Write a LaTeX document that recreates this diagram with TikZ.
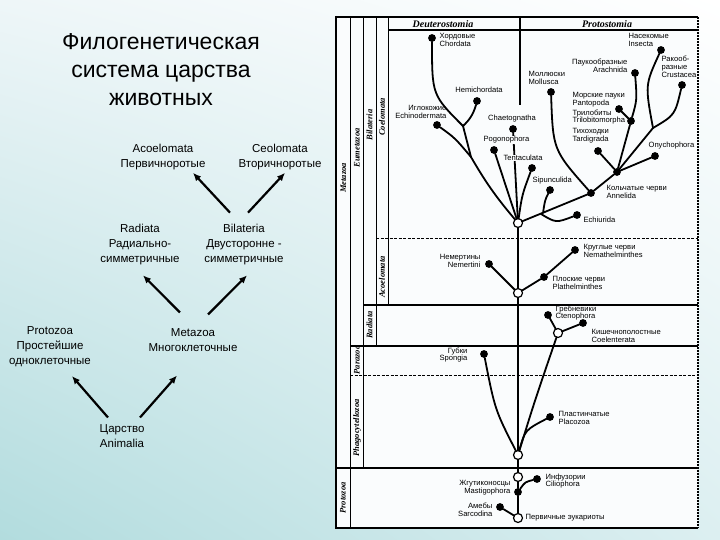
\documentclass[tikz,border=0pt]{standalone}
\usepackage{fontspec}
\setmainfont{Liberation Sans}
\newfontfamily\taxfont{Liberation Serif}
\usetikzlibrary{arrows.meta,shadings}
\begin{document}
\begin{tikzpicture}[x=1pt,y=-1pt,
  every node/.style={inner sep=0pt,outer sep=0pt},
  title/.style={font=\fontsize{23}{28}\selectfont,align=center},
  grp/.style={font=\fontsize{11.5}{15}\selectfont,align=center},
  arr/.style={line width=2.2pt,-{Latex[length=8pt,width=7pt]}},
  frm/.style={line width=1pt},
  frmthick/.style={line width=2pt},
  cut/.style={line width=1pt,dash pattern=on 3pt off 1.5pt},
  taxon/.style={font=\taxfont\bfseries\itshape\fontsize{8.5}{8.5}\selectfont,rotate=90},
  head/.style={font=\taxfont\bfseries\itshape\fontsize{10}{10}\selectfont},
  branch/.style={line width=1.8pt,line cap=round},
  leaf/.style={circle,fill=black,minimum size=7.8pt},
  fork/.style={circle,draw=black,line width=1.2pt,fill=white,minimum size=9pt},
  lab/.style={font=\fontsize{7.6}{7.8}\selectfont,inner sep=0.6pt,align=left,anchor=west},
  labr/.style={lab,align=right,anchor=east}]
 \definecolor{bgul}{RGB}{238,246,248}
 \definecolor{bgll}{RGB}{178,220,222}
 \definecolor{bglr}{RGB}{220,239,241}
 \definecolor{panel}{RGB}{250,252,253}
 \useasboundingbox (0,0) rectangle (720,540);
 \shade[upper left=bgul,upper right=white,lower left=bgll,lower right=bglr]
   (0,0) rectangle (720,540);
 \fill[panel] (336,17) rectangle (698,528);

 \node[title] (ttl) at (161,70) {Филогенетическая\\система царства\\животных};
 \node[grp] (acoelo) at (163,157) {Acoelomata\\Первичноротые};
 \node[grp] (coelo) at (280,157) {Ceolomata\\Вторичноротые};
 \node[grp] (radiata) at (140,245) {Radiata\\Радиально-\\симметричные};
 \node[grp] (bilat) at (244,245) {Bilateria\\Двусторонне -\\симметричные};
 \node[grp] (proto) at (50,347) {Protozoa\\Простейшие\\одноклеточные};
 \node[grp] (meta) at (193,340) {Metazoa\\Многоклеточные};
 \node[grp] (anim) at (122,436) {Царство\\Animalia};
 \draw[arr] ([shift={(-14,-7)}]anim.north) -- ([shift={(22,9)}]proto.south);
 \draw[arr] ([shift={(18,-7)}]anim.north) -- ([shift={(-16,24)}]meta.south);
 \draw[arr] ([shift={(-13,-16)}]meta.north) -- ([shift={(3,10)}]radiata.south);
 \draw[arr] ([shift={(15,-14)}]meta.north) -- ([shift={(3,10)}]bilat.south);
 \draw[arr] ([shift={(-14,-12)}]bilat.north) -- ([shift={(30,3)}]acoelo.south);
 \draw[arr] ([shift={(4,-12)}]bilat.north) -- ([shift={(5,3)}]coelo.south);

 \draw[line width=2.5pt] (336,16) -- (336,529);
 \draw[line width=1.5pt,dash pattern=on 2pt off 1pt] (698,17) -- (698,528);
 \foreach \xp/\ya/\yb in {350/17/528, 363/17/468, 376/17/346, 388/17/305}
   \draw[frm] (\xp,\ya) -- (\xp,\yb);
 \foreach \xa/\yp in {336/17, 388/30, 363/305, 350/346, 336/468, 336/528}
   \draw[frmthick] (\xa,\yp) -- (698,\yp);
 \foreach \xa/\yp in {376/238, 350/375}
   \draw[cut] (\xa,\yp) -- (698,\yp);
 \draw[frmthick] (520,17) -- (520,105);
 \node[head] (deut) at (443,24) {Deuterostomia};
 \node[head] (prot) at (607,24) {Protostomia};
 \foreach \nm/\xp/\yp in {Metazoa/343.5/178, Eumetazoa/357/148,
   Bilateria/369.5/125, Coelomata/382/117, Acoelomata/382/277,
   Radiata/369.5/325, Parazoa/357/360, Phagocytellozoa/357/428,
   Protozoa/343/498}
   \node[taxon] at (\xp,\yp) {\nm};

 \node[leaf] (chord) at (432,38) {};
 \node[leaf] (hemi) at (477,101) {};
 \node[leaf] (echin) at (437,125) {};
 \node[leaf] (chaet) at (513,129) {};
 \node[leaf] (pogon) at (494,150) {};
 \node[leaf] (tentac) at (532,168) {};
 \node[leaf] (moll) at (551,92) {};
 \node[leaf] (arach) at (635,73) {};
 \node[leaf] (insect) at (661,50) {};
 \node[leaf] (crust) at (682,85) {};
 \node[leaf] (panto) at (619,109) {};
 \node[leaf] (trilo) at (631,121) {};
 \node[leaf] (tardi) at (598,151) {};
 \node[leaf] (onych) at (655,156) {};
 \node[leaf] (arthr) at (617,172) {};
 \node[leaf] (annel) at (591,193) {};
 \node[leaf] (sipun) at (550,190) {};
 \node[leaf] (echiu) at (577,215) {};
 \node[fork] (coel) at (518,223) {};
 \node[leaf] (nemer) at (489,264) {};
 \node[leaf] (nemat) at (575,250) {};
 \node[leaf] (plath) at (544,277) {};
 \node[fork] (acoel) at (518,293) {};
 \node[leaf] (cteno) at (548,315) {};
 \node[leaf] (coelen) at (583,323) {};
 \node[fork] (radi) at (558,333) {};
 \node[leaf] (spong) at (484,354) {};
 \node[leaf] (placo) at (550,417) {};
 \node[fork] (phag) at (518,455) {};
 \node[fork] (euk) at (518,477) {};
 \node[leaf] (mast) at (518,492) {};
 \node[leaf] (cilio) at (537,479) {};
 \node[leaf] (amoeb) at (500,507) {};
 \node[fork] (root) at (518,518) {};
 \coordinate (hemij) at (463,126);
 \coordinate (echj) at (471,157);
 \coordinate (insj) at (653,128);
 \coordinate (sipj) at (543,213);
 \coordinate (echij) at (541,214);

 \draw[branch] (chord) .. controls (432,95) .. (hemij);
 \draw[branch] (hemi) to[bend left=15] (hemij);
 \draw[branch] (hemij) -- (echj);
 \draw[branch] (echin) .. controls (455,138) .. (echj);
 \draw[branch] (echj) to[bend right=5] (coel);
 \draw[branch] (chaet) -- (coel);
 \draw[branch] (pogon) -- (coel);
 \draw[branch] (tentac) .. controls (522,195) .. (coel);
 \draw[branch] (moll) .. controls (553,150) .. (annel);
 \draw[branch] (annel) -- (coel);
 \draw[branch] (sipun) .. controls (545,200) .. (sipj);
 \draw[branch] (echiu) .. controls (556,223) .. (echij);
 \draw[branch] (arthr) -- (annel);
 \draw[branch] (tardi) -- (arthr);
 \draw[branch] (onych) -- (arthr);
 \draw[branch] (trilo) -- (arthr);
 \draw[branch] (arach) .. controls (637,100) .. (trilo);
 \draw[branch] (panto) -- (trilo);
 \draw[branch] (insect) .. controls (645,85) .. (insj);
 \draw[branch] (crust) .. controls (675,115) .. (insj);
 \draw[branch] (insj) -- (arthr);
 \draw[branch] (nemer) -- (acoel);
 \draw[branch] (nemat) -- (plath);
 \draw[branch] (plath) -- (acoel);
 \draw[branch] (acoel) -- (coel);
 \draw[branch] (acoel) -- (phag);
 \draw[branch] (cteno) -- (radi);
 \draw[branch] (coelen) -- (radi);
 \draw[branch] (radi) .. controls (535,400) .. (phag);
 \draw[branch] (spong) .. controls (495,410) .. (phag);
 \draw[branch] (placo) .. controls (525,430) .. (phag);
 \draw[branch] (phag) -- (euk);
 \draw[branch] (euk) -- (mast);
 \draw[branch] (mast) -- (root);
 \draw[branch] (cilio) .. controls (525,482) .. (mast);
 \draw[branch] (amoeb) -- (root);

 \node[lab] (chordlab) at (439,40) {Хордовые\\Chordata};
 \node[lab,anchor=center] (hemilab) at (479,90) {Hemichordata};
 \node[labr] (echinlab) at (447,112) {Иглокожие\\Echinodermata};
 \node[lab,anchor=center] (chaetlab) at (512,119) {Chaetognatha};
 \node[lab,fill=panel] (pogonlab) at (483,140) {Pogonophora};
 \node[lab,fill=panel] (tentaclab) at (503,158) {Tentaculata};
 \node[lab] (sipunlab) at (532,181) {Sipunculida};
 \node[lab] (molllab) at (528,78) {Моллюски\\Mollusca};
 \node[labr] (arachlab) at (628,66) {Паукообразные\\Arachnida};
 \node[lab] (insectlab) at (628,40) {Насекомые\\Insecta};
 \node[lab] (crustlab) at (661,67) {Ракооб-\\разные\\Crustacea};
 \node[lab] (pantolab) at (572,100) {Морские пауки\\Pantopoda};
 \node[lab] (trilolab) at (572,117) {Трилобиты\\Trilobitomorpha};
 \node[lab] (tardilab) at (572,136) {Тихоходки\\Tardigrada};
 \node[lab] (onychlab) at (648,146) {Onychophora};
 \node[lab] (annellab) at (606,192) {Кольчатые черви\\Annelida};
 \node[lab] (echiulab) at (583,220) {Echiurida};
 \node[labr] (nemerlab) at (481,261) {Немертины\\Nemertini};
 \node[lab] (nematlab) at (583,251) {Круглые черви\\Nemathelminthes};
 \node[lab] (plathlab) at (552,283) {Плоские черви\\Plathelminthes};
 \node[lab] (ctenolab) at (555,313) {Гребневики\\Ctenophora};
 \node[lab] (coelenlab) at (591,336) {Кишечнополостные\\Coelenterata};
 \node[labr] (sponglab) at (468,355) {Губки\\Spongia};
 \node[lab] (placolab) at (558,418) {Пластинчатые\\Placozoa};
 \node[labr] (mastlab) at (511,488) {Жгутиконосцы\\Mastigophora};
 \node[labr] (amoeblab) at (493,510) {Амебы\\Sarcodina};
 \node[lab] (ciliolab) at (545,481) {Инфузории\\Ciliophora};
 \node[lab] (rootlab) at (525,518) {Первичные эукариоты};
\end{tikzpicture}
\end{document}
